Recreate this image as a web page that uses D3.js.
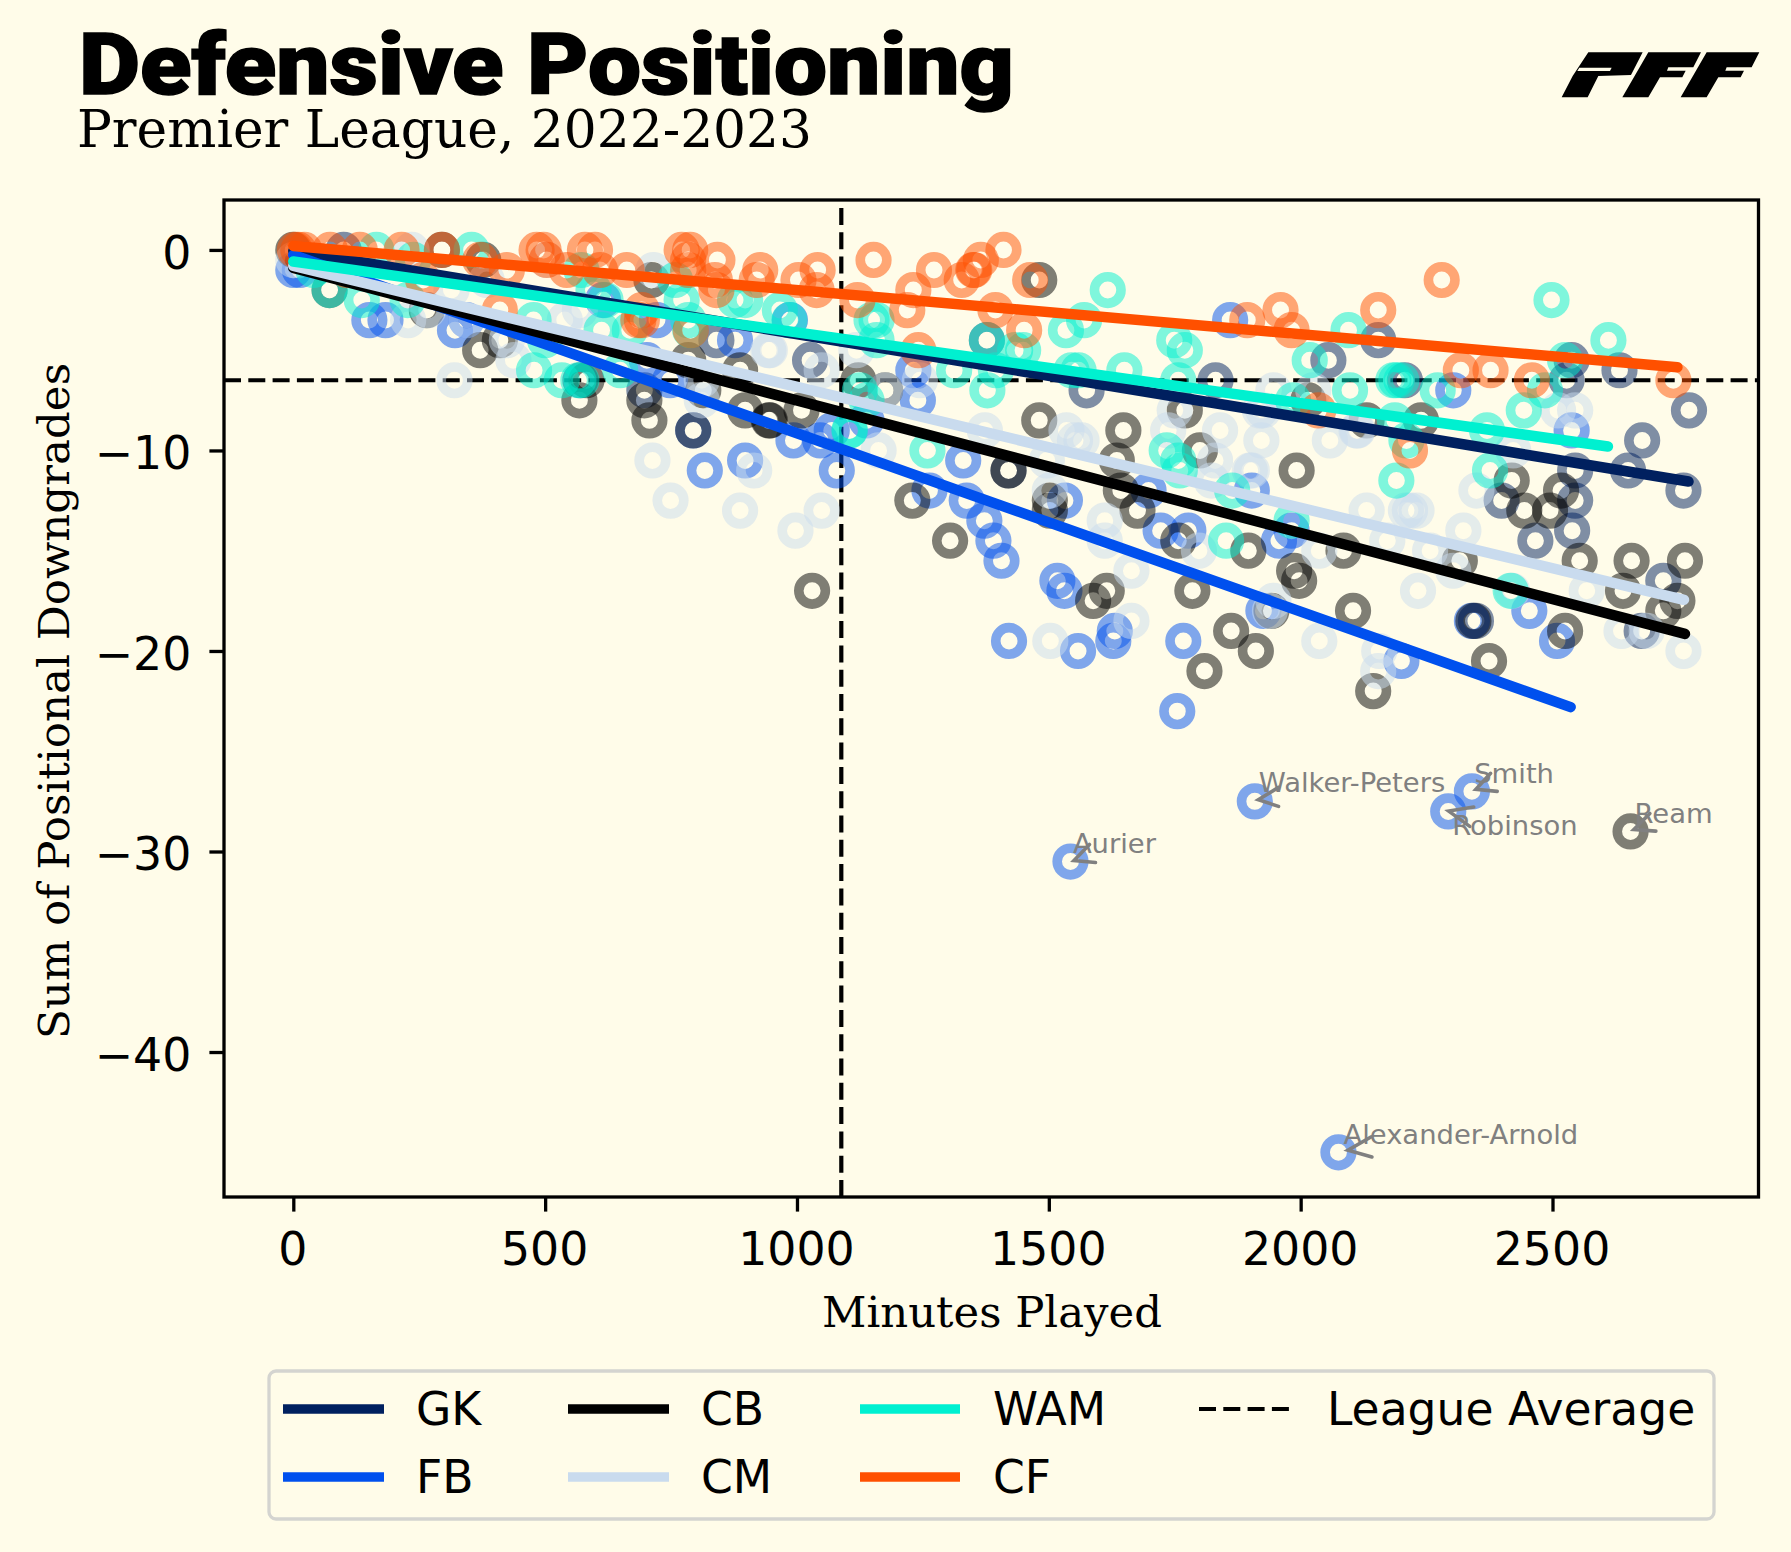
<!DOCTYPE html>
<html><head><meta charset="utf-8">
<script src="https://cdn.jsdelivr.net/npm/d3@7"></script>
<style>html,body{margin:0;padding:0;background:#fffce9}svg{display:block}</style>
</head><body><svg id="c" width="1791" height="1552"></svg>
<script>
const positions=["GK","FB","CB","CM","WAM","CF"];
const gkPoints=[[100,0],[1377,-4.5],[1026,-5.5],[1575,-7],[1831,-6.5],[2154,-4.5],[2055,-5.5],[2207,-6.5],[2528,-6.5],[2538,-5.5],[2633,-6],[2771,-8],[2678,-9.5],[2650,-11],[2545,-11],[2760,-12],[2399,-12.5],[2545,-12.5],[2539,-14],[2466,-14.5],[2720,-16.5],[2348,-18.5],[2677,-19],[1420,-11],[840,-4.5],[697,-7],[570,-6.5]];
const fbPoints=[[0,-1],[13,-1],[151,-3.5],[183,-3.5],[321,-4],[344,-3.5],[877,-4.5],[722,-3.5],[748,-6.5],[702,-5.5],[794,-9],[817,-11],[897,-10.5],[615,-2.5],[986,-3.5],[1231,-6],[1240,-7.5],[993,-9.5],[1046,-9.5],[1069,-9],[1138,-8.5],[1330,-10.5],[1079,-11],[1860,-3.5],[2303,-7],[2538,-9],[2454,-18],[2509,-19.5],[2340,-18.5],[2200,-20.5],[1903,-12],[1698,-12],[1722,-14],[1777,-14],[1957,-14.5],[1926,-18],[1631,-19],[1628,-19.5],[1767,-19.5],[1755,-23],[1982,-14],[1263,-12],[1337,-12.5],[1372,-13.5],[1390,-14.5],[1406,-15.5],[1421,-19.5],[1517,-16.5],[1531,-17],[1558,-20],[1532,-12.5],[1543,-30.5],[1909,-27.5],[2340,-27],[2293,-28],[2075,-45]];
const cbPoints=[[0,0],[295,0],[377,-0.5],[711,-1.5],[371,-5],[265,-3],[410,-4.5],[72,-2],[568,-7.5],[697,-7.5],[707,-8.5],[794,-9],[897,-8],[944,-8.5],[887,-6],[814,-7],[784,-5.5],[582,-6.5],[1481,-1.5],[1122,-6.5],[1175,-7],[1481,-8.5],[1648,-9],[1635,-10.5],[1770,-8],[1800,-10],[1009,-8],[946,-8.5],[2239,-8.5],[2131,-8.5],[1992,-11],[2419,-11.5],[2015,-7.5],[1643,-12],[1676,-13],[1757,-14.5],[1896,-15],[2085,-15],[1987,-16],[1997,-16.5],[1785,-17],[1615,-17],[1942,-18],[2104,-18],[1862,-19],[1911,-20],[1809,-21],[2144,-22],[2444,-13],[2495,-13],[2517,-12],[2316,-15.5],[2554,-15.5],[2657,-15.5],[2763,-15.5],[2640,-17],[2748,-17.5],[2720,-18],[2525,-19],[2374,-20.5],[2343,-18.5],[1030,-17],[1229,-12.5],[1304,-14.5],[1588,-17.5],[1420,-11],[1502,-12.5],[1502,-13],[2655,-29]];
const cmPoints=[[0,-0.5],[228,-3.5],[235,0],[320,-6.5],[437,-5.5],[713,-10.5],[915,-11],[943,-5],[811,-7.5],[715,-1],[539,-3.5],[569,-3],[314,-2],[424,-4.5],[268,-3],[811,-6.5],[503,-0.5],[344,-3.5],[384,-1.5],[749,-12.5],[887,-13],[997,-14],[1049,-13],[1503,-19.5],[1502,-12],[946,-5],[1049,-6],[1244,-6.5],[1162,-10],[1373,-9],[1535,-9],[1552,-9.5],[1565,-9.5],[1750,-8],[1737,-9],[1840,-9],[1922,-9.5],[1926,-8],[1118,-5],[1175,-7],[1496,-10.5],[1830,-10.5],[1946,-7],[1919,-8],[2058,-9.5],[2111,-9],[2113,-9],[2545,-8],[2511,-8],[2422,-10],[2025,-7],[1899,-11],[1903,-11],[2131,-13],[2209,-13],[2172,-14.5],[2037,-15],[1798,-15],[1664,-16],[1664,-18.5],[1946,-17.5],[2037,-19.5],[2156,-20],[2154,-21],[1611,-13.5],[1611,-14.5],[1939,-18],[1823,-11.5],[2349,-12],[2230,-13],[2217,-13],[2323,-14],[2257,-15],[2303,-16],[2233,-17],[2568,-17],[2637,-19],[2687,-19],[2760,-20],[2420,-17]];
const wamPoints=[[136,-2.5],[227,-2.5],[354,0],[165,0],[40,-1],[72,-2],[572,-1],[238,-0.5],[477,-3.5],[500,-4.5],[478,-6],[533,-6.5],[566,-6.5],[572,-6.5],[649,-6],[612,-4],[668,-4],[620,-2.5],[758,-1.5],[771,-2.5],[897,-2.5],[877,-2.5],[966,-3],[985,-3.5],[788,-4],[784,-3.5],[596,-2],[1617,-2],[1570,-3.5],[1534,-4],[1377,-4.5],[1449,-5],[1433,-5],[1158,-3.5],[1158,-4.5],[1148,-3.5],[1312,-6],[1395,-6],[1378,-7],[1545,-6],[1559,-6],[1650,-6],[1749,-4.5],[1770,-5],[1757,-6.5],[1125,-7],[1105,-9],[1104,-9],[1259,-10],[1734,-10],[1757,-10.5],[1138,-7.5],[2498,-2.5],[2611,-4.5],[2095,-4],[2018,-5.5],[2098,-7],[2184,-6.5],[2190,-6.5],[2200,-6.5],[2272,-7],[2525,-5.5],[2485,-7],[2443,-8],[1985,-7.5],[2210,-9.5],[2370,-9],[2376,-11],[2190,-11.5],[2187,-8.5],[1864,-12],[1852,-14.5],[1982,-13.5],[1760,-11],[2417,-17]];
const cfPoints=[[3,0],[10,0],[22,0],[73,0],[132,0],[215,0],[295,0],[483,0],[497,0],[579,0],[599,0],[771,0],[788,0],[662,-1],[842,-0.5],[927,-1],[920,-1.5],[503,-0.5],[424,-1],[371,-0.5],[784,-0.5],[784,-1],[837,-1.5],[840,-2],[609,-1],[543,-1],[410,-3],[692,-3],[692,-3.5],[685,-3.5],[789,-4],[106,-1],[258,-1.5],[1152,-0.5],[1041,-1],[1003,-1.5],[1039,-2],[1120,-2.5],[1231,-2],[1219,-3],[1272,-1],[1327,-1.5],[1350,-1],[1352,-1],[1365,-0.5],[1410,0],[1463,-1.5],[1394,-3],[1451,-4],[1241,-5],[1894,-3.5],[2280,-1.5],[1960,-3],[1982,-4],[2154,-3],[2318,-6],[2377,-6],[2459,-6.5],[2740,-6.5],[2035,-8],[2217,-10]];
const gkTrend=[[0,-0.05],[2770,-11.55]];
const fbTrend=[[0,-0.25],[2536,-22.8]];
const cbTrend=[[0,-0.9],[2763,-19.15]];
const cmTrend=[[0,-0.8],[2761,-17.45]];
const wamTrend=[[0,-0.58],[2610,-9.8]];
const cfTrend=[[0,0.2],[2748,-5.85]];
const leagueAvgMinutes=1088, leagueAvgDowngrades=-6.5;
const xTicks=[0,500,1000,1500,2000,2500], yTicks=[0,-10,-20,-30,-40];
const calloutNames=["Aurier","Walker-Peters","Smith","Robinson","Ream","Alexander-Arnold"];
const calloutMinutes=[1543,1909,2340,2293,2655,2075];
const calloutDowngrades=[-30.5,-27.5,-27,-28,-29,-45];

const colors={GK:"#00205f",FB:"#0050ee",CB:"#000000",CM:"#c9dbee",WAM:"#00f0d0",CF:"#ff5000"};
const pts={GK:gkPoints,FB:fbPoints,CB:cbPoints,CM:cmPoints,WAM:wamPoints,CF:cfPoints};
const trends={GK:gkTrend,FB:fbTrend,CB:cbTrend,CM:cmTrend,WAM:wamTrend,CF:cfTrend};
const F={l:224,r:1758.5,t:200,b:1197};
const x=d3.scaleLinear().domain([-137.6,2909]).range([F.l,F.r]);
const y=d3.scaleLinear().domain([2.49,-47.23]).range([F.t,F.b]);
const svg=d3.select("#c");
const ink="#000";
svg.append("rect").attr("width",1791).attr("height",1552).attr("fill","#fffce9");

// titles
svg.append("text").attr("x",79).attr("y",94).text("Defensive Positioning")
 .attr("font-family","Roboto").attr("font-weight",900).attr("font-size",86)
 .attr("stroke","#000").attr("stroke-width",1.5)
 .attr("textLength",935).attr("lengthAdjust","spacingAndGlyphs");
svg.append("text").attr("x",77).attr("y",147).text("Premier League, 2022-2023")
 .attr("font-family","DejaVu Serif").attr("font-size",52)
 .attr("textLength",735).attr("lengthAdjust","spacingAndGlyphs");

// logo
const logo=svg.append("g").attr("transform","translate(1520,20) scale(0.3333)");
logo.append("path").attr("fill-rule","evenodd").attr("d","M205,97L368,97L333,165L235,168L203,232L125,232L158,168ZM172,153L270,153L275,143L178,143Z");
const fShape="M385,97L543,97L520,142L445,142L441,152L497,152L487,172L420,172L385,232L307,232Z";
logo.append("path").attr("d",fShape);
logo.append("path").attr("d",fShape).attr("transform","translate(175,0)");

// league average
const clipG=svg.append("g");
const dash="17,7.3";
clipG.append("line").attr("x1",F.l).attr("x2",F.r).attr("y1",y(leagueAvgDowngrades)).attr("y2",y(leagueAvgDowngrades))
 .attr("stroke",ink).attr("stroke-width",4.2).attr("stroke-dasharray",dash);
clipG.append("line").attr("y1",F.b).attr("y2",F.t).attr("x1",x(leagueAvgMinutes)).attr("x2",x(leagueAvgMinutes))
 .attr("stroke",ink).attr("stroke-width",4.2).attr("stroke-dasharray",dash);

// scatter
positions.forEach(p=>{
 clipG.append("g").selectAll("circle").data(pts[p]).join("circle")
  .attr("cx",d=>x(d[0])).attr("cy",d=>y(d[1])).attr("r",13.3)
  .attr("fill","none").attr("stroke",colors[p]).attr("stroke-width",9.6).attr("stroke-opacity",0.5);
});
// trends
const lineGen=d3.line().x(d=>x(d[0])).y(d=>y(d[1]));
positions.forEach(p=>{
 clipG.append("path").attr("d",lineGen(trends[p])).attr("fill","none")
  .attr("stroke",colors[p]).attr("stroke-width",10.5).attr("stroke-linecap","round");
});

// axes
const xAxis=d3.axisBottom(x).tickValues(xTicks).tickSize(14.6).tickPadding(20.5).tickFormat(d3.format("d"));
const yAxis=d3.axisLeft(y).tickValues(yTicks).tickSize(14.6).tickPadding(18).tickFormat(d=>d3.format("d")(d).replace("-","\u2212"));
const gx=svg.append("g").attr("transform",`translate(0,${F.b})`).call(xAxis);
const gy=svg.append("g").attr("transform",`translate(${F.l},0)`).call(yAxis);
[gx,gy].forEach(g=>{
 g.select(".domain").remove();
 g.selectAll("line").attr("stroke",ink).attr("stroke-width",3.3);
 g.selectAll("text").attr("fill",ink).attr("font-family","DejaVu Sans").attr("font-size",45.8);
});
gx.selectAll("text").attr("dx",-1);
gy.selectAll("text").attr("dy","0.4em");
svg.append("rect").attr("x",F.l).attr("y",F.t).attr("width",F.r-F.l).attr("height",F.b-F.t)
 .attr("fill","none").attr("stroke",ink).attr("stroke-width",3.3);

svg.append("text").attr("x",992).attr("y",1327).attr("text-anchor","middle").text("Minutes Played")
 .attr("font-family","DejaVu Serif").attr("font-size",42).attr("textLength",340).attr("lengthAdjust","spacingAndGlyphs");
svg.append("text").attr("transform","translate(69,701) rotate(-90)").attr("text-anchor","middle").text("Sum of Positional Downgrades")
 .attr("font-family","DejaVu Serif").attr("font-size",42).attr("textLength",676).attr("lengthAdjust","spacingAndGlyphs");

// callouts
const labelOffset={Aurier:[2.4,-8.3],"Walker-Peters":[4,-9],Smith:[2.3,-8.3],Robinson:[4,24],Ream:[4,-8.3],"Alexander-Arnold":[5,-8]};
const barbs={Aurier:[[3.5,-1],[19,-17],[25,1]],"Walker-Peters":[[3.5,-1.7],[23.7,-14],[23.7,5]],Smith:[[4,-2],[18.7,-18],[25.3,0]],Robinson:[[.5,-.3],[25.5,-4.3],[21.5,15]],Ream:[[3.3,-2],[19.3,-18],[25.3,-.3]],"Alexander-Arnold":[[9.5,-2],[32.5,-15.3],[33.5,4.7]]};
calloutNames.forEach((n,i)=>{
 const px=x(calloutMinutes[i]),py=y(calloutDowngrades[i]);
 const [a,b,c]=barbs[n];
 svg.append("path").attr("d",`M${px+b[0]},${py+b[1]}L${px+a[0]},${py+a[1]}L${px+c[0]},${py+c[1]}`)
  .attr("fill","none").attr("stroke","#808080").attr("stroke-width",3.6).attr("stroke-linecap","round");
 svg.append("text").attr("x",px+labelOffset[n][0]).attr("y",py+labelOffset[n][1]).text(n)
  .attr("font-family","DejaVu Sans").attr("font-size",27.4).attr("fill","#808080");
});

// legend
svg.append("rect").attr("x",269).attr("y",1371).attr("width",1445).attr("height",148).attr("rx",7)
 .attr("fill","#fffce9").attr("stroke","#d4d4d0").attr("stroke-width",3.3);
const legendCols=[[283,384,416],[568,669,701],[860,960,993]];
const legendRows=[1409,1477], legendBase=[1425,1493];
positions.forEach((p,i)=>{
 const c=legendCols[Math.floor(i/2)], r=i%2;
 svg.append("line").attr("x1",c[0]).attr("x2",c[1]).attr("y1",legendRows[r]).attr("y2",legendRows[r])
  .attr("stroke",colors[p]).attr("stroke-width",9.4);
 svg.append("text").attr("x",c[2]).attr("y",legendBase[r]).text(p)
  .attr("font-family","DejaVu Sans").attr("font-size",45.6);
});
svg.append("line").attr("x1",1199).attr("x2",1289).attr("y1",legendRows[0]).attr("y2",legendRows[0])
 .attr("stroke",ink).attr("stroke-width",4.2).attr("stroke-dasharray",dash);
svg.append("text").attr("x",1327).attr("y",legendBase[0]).text("League Average")
 .attr("font-family","DejaVu Sans").attr("font-size",45.6);
</script></body></html>
